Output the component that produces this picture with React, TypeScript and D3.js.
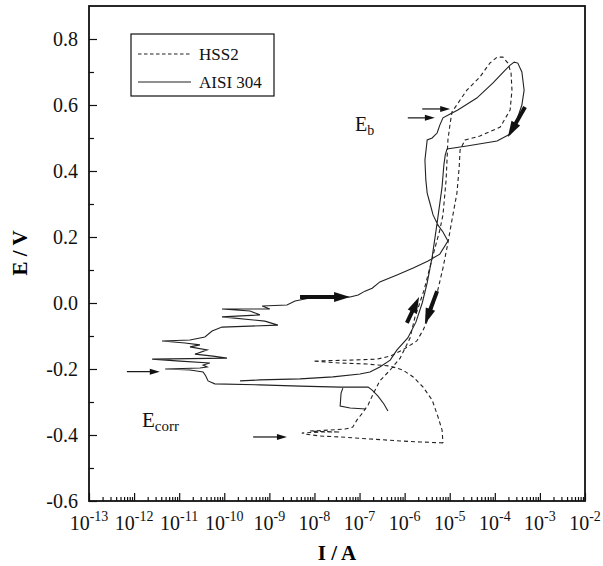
import React, { useRef, useEffect } from "react";
import * as d3 from "d3";

// log10(I / A) and E / V
const hssLogI = [
  -5.15, -5.66, -6.1, -6.77, -7.43, -7.88, -8.21, -8.28, -7.88, -7.43, -8.1, -7.66, -7.32, -7.15,
  -7.06, -6.95, -6.81, -6.7, -6.55, -6.32, -6.1, -5.88, -5.77, -5.68, -5.57, -5.37, -5.22, -5.15,
  -5.08, -5.06, -5.04, -4.99, -4.95, -4.62, -4.33, -4.11, -3.95, -3.82, -3.71, -3.64, -3.62, -3.66,
  -3.88, -4.33, -4.66, -4.77, -4.79, -4.84, -4.95, -5.04, -5.15, -5.28, -5.44, -5.59, -5.73, -6.04,
  -6.32, -6.61, -7.21, -8.03, -7.43, -6.83, -6.32, -6.04, -5.81, -5.59, -5.39, -5.26, -5.17, -5.15,
];
const hssE = [
  -0.424, -0.421, -0.418, -0.412, -0.406, -0.403, -0.397, -0.394, -0.391, -0.391, -0.388, -0.385,
  -0.382, -0.376, -0.355, -0.336, -0.309, -0.276, -0.236, -0.203, -0.167, -0.106, -0.042, -0.006,
  0.039, 0.145, 0.221, 0.267, 0.373, 0.433, 0.494, 0.545, 0.579, 0.645, 0.685, 0.727, 0.745, 0.745,
  0.727, 0.697, 0.645, 0.585, 0.533, 0.506, 0.494, 0.464, 0.412, 0.333, 0.252, 0.182, 0.106, 0.03,
  -0.036, -0.082, -0.115, -0.142, -0.161, -0.17, -0.173, -0.176, -0.182, -0.185, -0.191, -0.203,
  -0.224, -0.255, -0.294, -0.345, -0.385, -0.424,
];

const aisiLogI = [
  -6.37, -6.46, -6.59, -6.72, -6.81, -7.43, -8.32, -9.21, -10.21, -10.36, -10.41, -10.47, -10.76,
  -11.31, -10.54, -10.38, -10.47, -10.32, -10.98, -11.6, -9.94, -10.25, -10.65, -10.38, -10.76,
  -10.54, -10.87, -11.38, -10.76, -10.43, -10.27, -10.05, -9.43, -8.81, -9.1, -10.05, -9.21, -9.43,
  -10.05, -8.99, -9.16, -8.61, -8.43, -8.1, -7.66, -7.21, -7.03, -6.88, -6.72, -6.55, -6.17, -5.81,
  -5.48, -5.22, -5.04, -5.15, -5.26, -5.37, -5.44, -5.5, -5.53, -5.55, -5.5, -5.39, -5.28, -5.22,
  -5.15, -4.99, -4.82, -4.4, -4.04, -3.77, -3.66, -3.57, -3.49, -3.4, -3.35, -3.4, -3.51, -3.66,
  -3.95, -4.62, -5.06, -5.1, -5.13, -5.17, -5.28, -5.39, -5.5, -5.61, -5.75, -5.93, -6.17, -6.32,
  -6.55, -6.77, -6.99, -7.59, -8.32, -9.21, -9.65,
];
const aisiE = [
  -0.327, -0.306, -0.282, -0.264, -0.255, -0.255, -0.252, -0.248, -0.245, -0.236, -0.221, -0.209,
  -0.203, -0.2, -0.197, -0.194, -0.188, -0.182, -0.176, -0.17, -0.167, -0.161, -0.155, -0.142,
  -0.133, -0.127, -0.121, -0.115, -0.112, -0.103, -0.085, -0.073, -0.07, -0.067, -0.055, -0.042,
  -0.036, -0.024, -0.018, -0.018, -0.009, -0.006, 0.006, 0.015, 0.018, 0.018, 0.024, 0.036, 0.045,
  0.064, 0.085, 0.106, 0.127, 0.148, 0.188, 0.215, 0.236, 0.267, 0.303, 0.333, 0.373, 0.433, 0.494,
  0.5, 0.515, 0.539, 0.561, 0.573, 0.585, 0.621, 0.667, 0.706, 0.721, 0.73, 0.727, 0.7, 0.645, 0.6,
  0.555, 0.512, 0.491, 0.476, 0.467, 0.448, 0.418, 0.352, 0.242, 0.139, 0.061, 0.0, -0.058, -0.106,
  -0.142, -0.173, -0.194, -0.209, -0.215, -0.224, -0.23, -0.233, -0.236,
];
// small step near the start of the AISI 304 scan
const aisiStepLogI = [-7.37, -7.41, -7.43, -7.21, -6.86];
const aisiStepE = [-0.258, -0.273, -0.312, -0.318, -0.321];

const yTicks = [-0.6, -0.4, -0.2, 0.0, 0.2, 0.4, 0.6, 0.8];
const yMinor = [-0.5, -0.3, -0.1, 0.1, 0.3, 0.5, 0.7];
const xDecades = d3.range(-13, -1);
const legendLabels = ["HSS2", "AISI 304"];

// scan-direction arrows [logI0, E0, logI1, E1]
const thickArrows = [
  [-8.32, 0.018, -7.21, 0.018],
  [-5.95, -0.06, -5.68, 0.018],
  [-5.28, 0.036, -5.55, -0.064],
  [-3.33, 0.594, -3.71, 0.503],
];
const thinArrows = [
  [-12.16, -0.208, -11.43, -0.208],
  [-9.36, -0.406, -8.61, -0.406],
  [-5.61, 0.588, -4.99, 0.588],
  [-5.93, 0.561, -5.33, 0.561],
];

const font = "'Liberation Serif', 'Times New Roman', serif";

const App = () => {
  const ref = useRef<SVGSVGElement>(null);

  useEffect(() => {
    const svg = d3.select(ref.current);
    svg.selectAll("*").remove();

    const x = d3.scaleLog().domain([1e-13, 1e-2]).range([89, 585]);
    const y = d3.scaleLinear().domain([-0.6, 0.9]).range([501, 6]);
    const px = (l: number) => x(Math.pow(10, l));

    // y axis: majors and minors in separate groups
    const yAxis = svg.append("g").attr("transform", "translate(89,0)");
    yAxis.call(
      d3.axisLeft(y).tickValues(yTicks).tickSize(-8).tickSizeOuter(0).tickPadding(11)
        .tickFormat((d: any) => d.toFixed(1))
    );
    yAxis.selectAll("text").attr("font-size", 20).attr("font-family", font).attr("fill", "#111");
    const yMin = svg.append("g").attr("transform", "translate(89,0)");
    yMin.call(d3.axisLeft(y).tickValues(yMinor).tickSize(-5).tickSizeOuter(0).tickFormat(() => ""));

    // x axis
    const minor: number[] = [];
    xDecades.slice(0, -1).forEach((d) => {
      for (let k = 2; k <= 9; k++) minor.push(k * Math.pow(10, d));
    });
    const xAxis = svg.append("g").attr("transform", "translate(0,501)");
    xAxis.call(
      d3.axisBottom(x).tickValues(xDecades.map((d) => Math.pow(10, d))).tickSize(-8)
        .tickSizeOuter(0).tickFormat(() => "")
    );
    const xMin = svg.append("g").attr("transform", "translate(0,501)");
    xMin.call(d3.axisBottom(x).tickValues(minor).tickSize(-4).tickSizeOuter(0).tickFormat(() => ""));
    svg.selectAll(".domain").remove();
    svg.selectAll(".tick line").attr("stroke", "#111").attr("stroke-width", 1.2);

    const xl = svg.append("g").attr("fill", "#111");
    xDecades.forEach((d) => {
      const t = xl.append("text").attr("x", x(Math.pow(10, d))).attr("y", 530)
        .attr("text-anchor", "middle").attr("font-size", 20).attr("font-family", font);
      t.append("tspan").text("10");
      t.append("tspan").attr("dy", -9).attr("font-size", 14).text(String(d));
    });

    // frame
    svg.append("rect").attr("x", 89).attr("y", 6).attr("width", 496).attr("height", 495)
      .attr("fill", "none").attr("stroke", "#111").attr("stroke-width", 1.8);

    // axis titles
    svg.append("text").attr("x", 337).attr("y", 560).attr("text-anchor", "middle")
      .attr("font-family", font).attr("font-weight", "bold").attr("font-size", 21).text("I / A");
    svg.append("text").attr("transform", "translate(27,253) rotate(-90)").attr("text-anchor", "middle")
      .attr("font-family", font).attr("font-weight", "bold").attr("font-size", 21).text("E / V");

    // curves
    const line = d3.line<[number, number]>().x((d) => px(d[0])).y((d) => y(d[1]));
    const zipped = (a: number[], b: number[]) => a.map((v, i) => [v, b[i]] as [number, number]);

    svg.append("path").attr("d", line(zipped(hssLogI, hssE)))
      .attr("fill", "none").attr("stroke", "#222").attr("stroke-width", 1.1).attr("stroke-dasharray", "4,3");
    svg.append("path").attr("d", line(zipped(aisiLogI, aisiE)))
      .attr("fill", "none").attr("stroke", "#222").attr("stroke-width", 1.1);
    svg.append("path").attr("d", line(zipped(aisiStepLogI, aisiStepE)))
      .attr("fill", "none").attr("stroke", "#222").attr("stroke-width", 1.1);

    // arrows
    const arrow = (a: number[], w: number, headL: number, headW: number) => {
      const x0 = px(a[0]), y0 = y(a[1]), x1 = px(a[2]), y1 = y(a[3]);
      const len = Math.hypot(x1 - x0, y1 - y0);
      const ux = (x1 - x0) / len, uy = (y1 - y0) / len;
      const bx = x1 - ux * headL, by = y1 - uy * headL;
      svg.append("line").attr("x1", x0).attr("y1", y0).attr("x2", bx + ux).attr("y2", by + uy)
        .attr("stroke", "#111").attr("stroke-width", w);
      const pts = [
        [x1, y1],
        [bx - uy * headW / 2, by + ux * headW / 2],
        [bx + uy * headW / 2, by - ux * headW / 2],
      ];
      svg.append("polygon").attr("points", pts.map((p) => p.join(",")).join(" ")).attr("fill", "#111");
    };
    thickArrows.forEach((a) => arrow(a, 4, 16, 10));
    thinArrows.forEach((a) => arrow(a, 1.2, 10, 6));

    // labels
    const eb = svg.append("text").attr("x", 355).attr("y", 131).attr("font-family", font)
      .attr("font-size", 20).attr("fill", "#111");
    eb.append("tspan").text("E");
    eb.append("tspan").attr("dy", 4).attr("font-size", 14).text("b");
    const ec = svg.append("text").attr("x", 142).attr("y", 427).attr("font-family", font)
      .attr("font-size", 21).attr("fill", "#111");
    ec.append("tspan").text("E");
    ec.append("tspan").attr("dy", 4).attr("font-size", 15).text("corr");

    // legend
    const lg = svg.append("g").attr("fill", "#111");
    lg.append("rect").attr("x", 131).attr("y", 34).attr("width", 143).attr("height", 62)
      .attr("fill", "none").attr("stroke", "#111").attr("stroke-width", 1.2);
    legendLabels.forEach((name, i) => {
      const ly = 54 + i * 28;
      lg.append("line").attr("x1", 138).attr("x2", 191).attr("y1", ly).attr("y2", ly)
        .attr("stroke", "#222").attr("stroke-width", 1.1)
        .attr("stroke-dasharray", i === 0 ? "3.5,2.5" : null);
      lg.append("text").attr("x", 199).attr("y", ly + 6).attr("font-family", font)
        .attr("font-size", 17).text(name);
    });
  }, []);

  return (
    <svg
      ref={ref}
      width={603}
      height={566}
      style={{ position: "absolute", left: 0, top: 0, background: "#fff" }}
    />
  );
};

export default App;
